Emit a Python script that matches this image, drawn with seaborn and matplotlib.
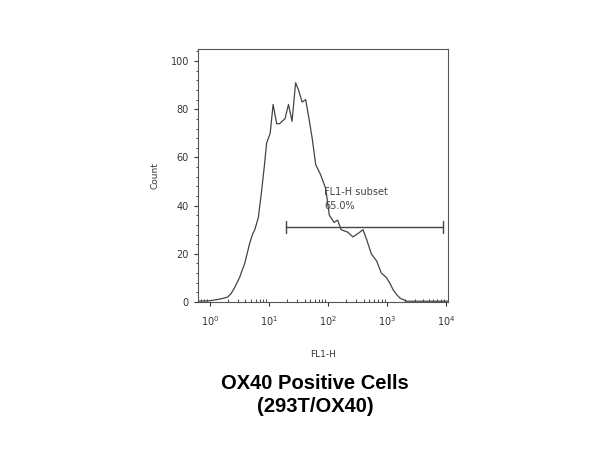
import numpy as np
import pandas as pd
import matplotlib
matplotlib.use("Agg")
import matplotlib.pyplot as plt
import matplotlib.ticker as mticker
import seaborn as sns

# histogram trace (log10 of FL1-H, count)
log_fl1 = [-0.2, 0.0, 0.13, 0.22, 0.3, 0.36, 0.42, 0.5, 0.59, 0.67, 0.72, 0.76,
           0.82, 0.87, 0.92, 0.96, 1.02, 1.07, 1.13, 1.18, 1.22, 1.27, 1.33,
           1.39, 1.45, 1.5, 1.56, 1.62, 1.67, 1.73, 1.79, 1.87, 1.96, 2.02,
           2.1, 2.16, 2.22, 2.33, 2.42, 2.51, 2.59, 2.65, 2.73, 2.82, 2.9,
           2.99, 3.05, 3.1, 3.16, 3.22, 3.33, 4.03]
counts = [0.3, 0.5, 1, 1.5, 2, 3.5, 6, 10, 16, 24, 28, 30,
          35, 45, 56, 66, 70, 82, 74, 74, 75, 76, 82,
          75, 91, 88, 83, 84, 77, 68, 57, 53, 47, 36,
          33, 34, 30, 29, 27, 28.5, 30, 26, 20, 17, 12,
          10, 7.5, 5, 3, 1.5, 0.3, 0.3]

gate_name = "FL1-H subset"
gate_pct = "65.0%"
gate_range = [10 ** 1.29, 10 ** 3.94]
gate_level = 31

df = pd.DataFrame({"FL1-H": [10 ** v for v in log_fl1], "Count": counts})

sns.set_style("ticks")
plt.rcParams["font.family"] = ["DejaVu Sans"]

fig = plt.figure(figsize=(6, 4.5), dpi=100)
ax = fig.add_axes([0.33, 0.329, 0.417, 0.562])

sns.lineplot(data=df, x="FL1-H", y="Count", color="#444444", linewidth=0.9, ax=ax)
ax.set_xscale("log")
ax.set_xlim(10 ** -0.2, 10 ** 4.03)
ax.set_ylim(0, 105)

# gate bar
ax.plot(gate_range, [gate_level, gate_level], color="#444444", linewidth=1.0)
for gx in gate_range:
    ax.plot([gx, gx], [gate_level - 2.5, gate_level + 2.5], color="#444444", linewidth=1.0)
ax.text(10 ** 1.93, 45.5, gate_name, fontsize=7, color="#444444", va="center")
ax.text(10 ** 1.93, 40, gate_pct, fontsize=7, color="#444444", va="center")

ax.set_yticks([0, 20, 40, 60, 80, 100])
ax.yaxis.set_minor_locator(mticker.MultipleLocator(4))
ax.set_xticks([1, 10, 100, 1000, 10000])
ax.xaxis.set_major_formatter(mticker.LogFormatterMathtext())
ax.xaxis.set_minor_locator(mticker.LogLocator(base=10, subs=np.arange(2, 10)))
ax.xaxis.set_minor_formatter(mticker.NullFormatter())
ax.tick_params(axis="both", which="major", labelsize=7, length=3, width=0.8, colors="#333333")
ax.tick_params(axis="x", which="major", pad=6)
ax.tick_params(axis="y", which="minor", length=1.5, width=0.6)
ax.tick_params(axis="x", which="minor", direction="in", length=2, width=0.6)

ax.set_xlabel("FL1-H", fontsize=6.5, color="#333333", labelpad=16)
ax.set_ylabel("Count", fontsize=6.5, color="#333333", labelpad=8)
for s in ax.spines.values():
    s.set_linewidth(0.8)
    s.set_color("#555555")

fig.text(0.525, 0.122, "OX40 Positive Cells\n(293T/OX40)", ha="center", va="center",
         fontsize=14.5, fontweight="bold", family=["Liberation Sans", "DejaVu Sans"],
         linespacing=1.3, color="black")

fig.savefig("out.png", dpi=100, facecolor="white")
